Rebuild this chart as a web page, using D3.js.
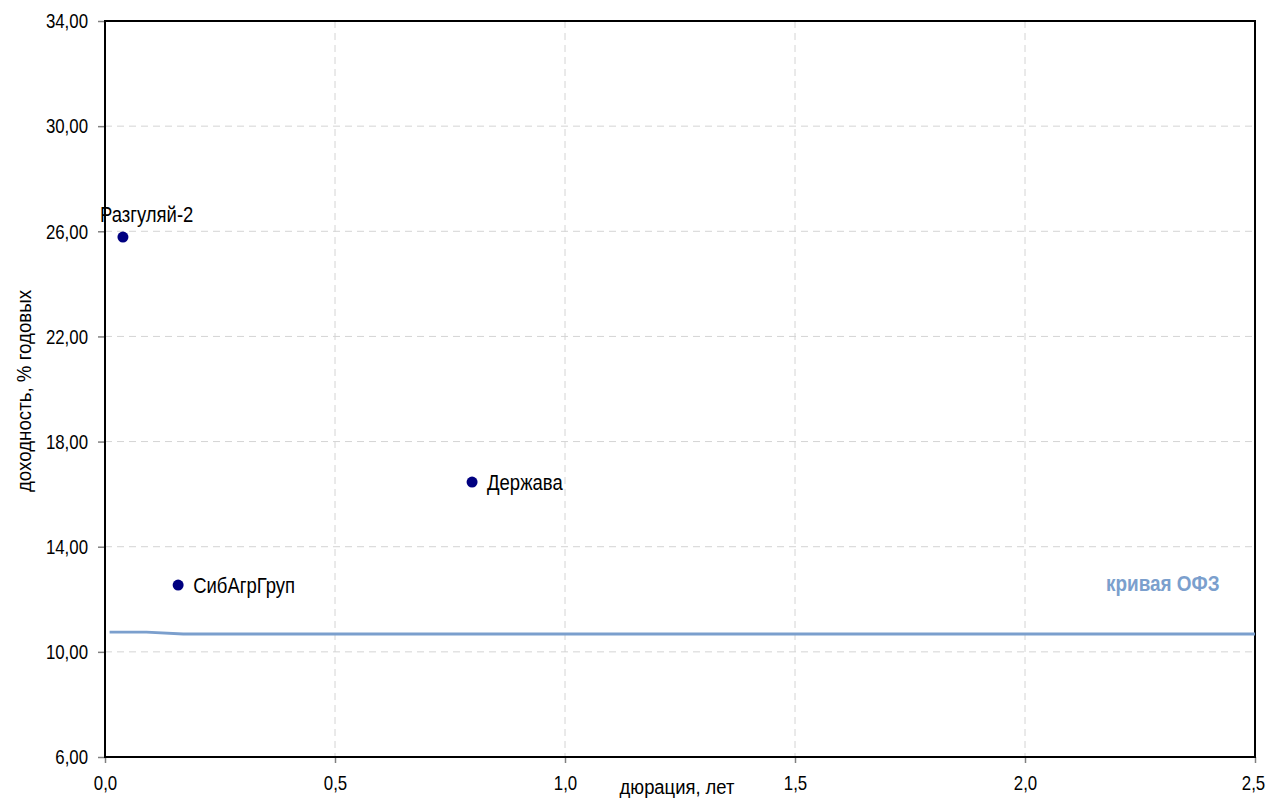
<!DOCTYPE html>
<html><head><meta charset="utf-8">
<script src="https://cdn.jsdelivr.net/npm/d3@7"></script>
<style>body{margin:0;background:#fff;}svg{display:block;font-family:"Liberation Sans",Arial,sans-serif;}</style>
</head><body>
<svg id="c" width="1269" height="800"></svg>
<script>
const bondNames = ["Разгуляй-2", "СибАгрГруп", "Держава"];
const bondDuration = [0.039, 0.159, 0.798];
const bondYield = [25.78, 12.54, 16.46];
const curveDuration = [0.01, 0.09, 0.17, 0.5, 1.0, 1.5, 2.0, 2.39, 2.45, 2.5];
const curveYield = [10.75, 10.75, 10.68, 10.68, 10.68, 10.68, 10.68, 10.68, 10.68, 10.68];
const xTicks = [0, 0.5, 1.0, 1.5, 2.0, 2.5];
const yTicks = [6, 10, 14, 18, 22, 26, 30, 34];

const FONT = "'Liberation Sans',Arial,sans-serif";
const svg = d3.select("#c");
const L = 105, R = 1255, T = 21, B = 757;
const x = d3.scaleLinear().domain([0, 2.5]).range([L, R]);
const y = d3.scaleLinear().domain([6, 34]).range([B, T]);
const fmtX = v => d3.format(".1f")(v).replace(".", ",");
const fmtY = v => d3.format(".2f")(v).replace(".", ",");

// condense text horizontally (the reference uses a narrow sans face)
function narrow(sel, size, k, weight) {
  sel.style("font-family", FONT).style("font-size", size + "px").style("font-weight", weight || "normal");
  sel.each(function() {
    const w = this.getComputedTextLength();
    d3.select(this).attr("textLength", (w * k).toFixed(1)).attr("lengthAdjust", "spacingAndGlyphs");
  });
  return sel;
}

// grid
svg.append("g").selectAll("line").data(yTicks.filter(v => v > 6 && v < 34)).join("line")
  .attr("x1", L).attr("x2", R).attr("y1", d => y(d)).attr("y2", d => y(d))
  .attr("stroke", "#d4d4d4").attr("stroke-dasharray", "7,5").attr("stroke-width", 1);
svg.append("g").selectAll("line").data(xTicks.filter(v => v > 0 && v < 2.5)).join("line")
  .attr("y1", T).attr("y2", B).attr("x1", d => x(d)).attr("x2", d => x(d))
  .attr("stroke", "#d4d4d4").attr("stroke-dasharray", "7,5").attr("stroke-width", 1);

// axes
const yAxis = svg.append("g").attr("transform", `translate(${L},0)`)
  .call(d3.axisLeft(y).tickValues(yTicks).tickFormat(fmtY).tickSize(7).tickPadding(10));
const xAxis = svg.append("g").attr("transform", `translate(0,${B})`)
  .call(d3.axisBottom(x).tickValues(xTicks).tickFormat(fmtX).tickSize(6).tickPadding(12));
[yAxis, xAxis].forEach(a => {
  a.select(".domain").remove();
  a.selectAll(".tick line").attr("stroke", "#808080").attr("stroke-width", 1.5);
  narrow(a.selectAll("text").attr("fill", "#000"), 21, 0.80);
});
xAxis.selectAll(".tick text").filter(d => d === 2.5).attr("dx", -2);

// frame
svg.append("rect").attr("x", L).attr("y", T).attr("width", R - L).attr("height", B - T)
  .attr("fill", "none").attr("stroke", "#000").attr("stroke-width", 2);

// curve
const curve = curveDuration.map((d, i) => [d, curveYield[i]]);
svg.append("path").datum(curve)
  .attr("d", d3.line().x(d => x(d[0])).y(d => y(d[1])))
  .attr("fill", "none").attr("stroke", "#7b9fcd").attr("stroke-width", 2.8);
narrow(svg.append("text").attr("x", 1106).attr("y", 591).attr("fill", "#7b9fcd").text("кривая ОФЗ"), 22, 0.86, "bold");

// points
const bonds = bondNames.map((n, i) => ({n, d: bondDuration[i], yv: bondYield[i]}));
svg.append("g").selectAll("circle").data(bonds).join("circle")
  .attr("cx", d => x(d.d)).attr("cy", d => y(d.yv)).attr("r", 5.5).attr("fill", "#000080");
narrow(svg.append("g").selectAll("text").data(bonds).join("text")
  .attr("x", (d, i) => i === 0 ? x(d.d) - 23 : x(d.d) + 15)
  .attr("y", (d, i) => i === 0 ? y(d.yv) - 15 : y(d.yv) + 8)
  .attr("fill", "#000")
  .text(d => d.n), 22, 0.84);

// axis titles
narrow(svg.append("text").attr("x", 677).attr("y", 794).attr("text-anchor", "middle").text("дюрация, лет"), 20, 0.92);
narrow(svg.append("text").attr("transform", `translate(31,391) rotate(-90)`)
  .attr("text-anchor", "middle").text("доходность, % годовых"), 20, 0.935);
</script>
</body></html>
